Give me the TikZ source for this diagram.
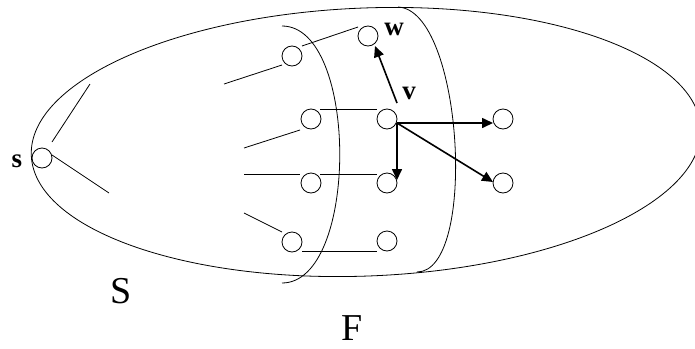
\documentclass[tikz,border=0pt]{standalone}
\usepackage{fontspec}
\setmainfont{Liberation Serif}
\usetikzlibrary{calc,arrows.meta}
\begin{document}
\begin{tikzpicture}[x=1pt,y=-1pt,line width=0.8pt,
  vtx/.style={circle,draw,minimum size=20pt,inner sep=0pt},
  arr/.style={line width=1.6pt,-{Triangle[length=11pt,width=10pt]}},
  lbl/.style={font=\fontsize{27}{29}\selectfont\bfseries,inner sep=0pt},
  biglbl/.style={font=\fontsize{38}{40}\selectfont,inner sep=0pt}]
\useasboundingbox (0,0) rectangle (695,348);
% outer set and boundaries
\draw[rotate around={2.3:(366,142)}] (366,142) ellipse [x radius=335, y radius=134];
\draw (282,26) .. controls (359,26) and (359,283) .. (282,283);
\draw (398,7) .. controls (463,10) and (478,272) .. (417,272);
% vertices
\node[vtx] (s) at (42,158) {};
\node[vtx] (A1) at (292,56) {};
\node[vtx] (A2) at (311,119) {};
\node[vtx] (A3) at (311,183) {};
\node[vtx] (A4) at (292,242) {};
\node[vtx] (w) at (368,36) {};
\node[vtx] (v) at (387,119) {};
\node[vtx] (B3) at (387,183) {};
\node[vtx] (B4) at (387,241) {};
\node[vtx] (R1) at (503,119) {};
\node[vtx] (R2) at (503,183) {};
% free ends
\coordinate (s1) at (90,84);
\coordinate (s2) at (109,193);
\coordinate (a1) at (224,84);
\coordinate (a2) at (244,148);
\coordinate (a3) at (244,174);
\coordinate (a4) at (244,213);
% plain edges
\draw ($(s)+(10,-16)$) -- (s1);
\draw ($(s)+(10,-3)$) -- (s2);
\draw (a1) -- ($(A1)+(-10,9)$);
\draw ($(A1)+(10,-10)$) -- ($(w)+(-10,-9)$);
\draw (a2) -- ($(A2)+(-11,11)$);
\draw ($(A2)+(9,-10)$) -- ($(v)+(-10,-10)$);
\draw (a3) -- ($(A3)+(-11,-9)$);
\draw ($(A3)+(9,-9)$) -- ($(B3)+(-10,-9)$);
\draw (a4) -- ($(A4)+(-10,-10)$);
\draw ($(A4)+(10,9)$) -- ($(B4)+(-10,10)$);
% arrows from v
\draw[arr] ($(v)+(10,-16)$) -- ($(w)+(7,10)$);
\draw[arr] ($(v)+(10,4)$) -- ($(R1)+(-10,4)$);
\draw[arr] ($(v)+(10,4)$) -- ($(B3)+(10,-3)$);
\draw[arr] ($(v)+(10,4)$) -- ($(R2)+(-10,-1)$);
% labels
\node[lbl] (ls) at (17,161) {s};
\node[lbl] (lw) at (394,29) {w};
\node[lbl] (lv) at (409,93) {v};
\node[biglbl] (lS) at (121,291) {S};
\node[biglbl] (lF) at (352,328) {F};
\end{tikzpicture}
\end{document}
